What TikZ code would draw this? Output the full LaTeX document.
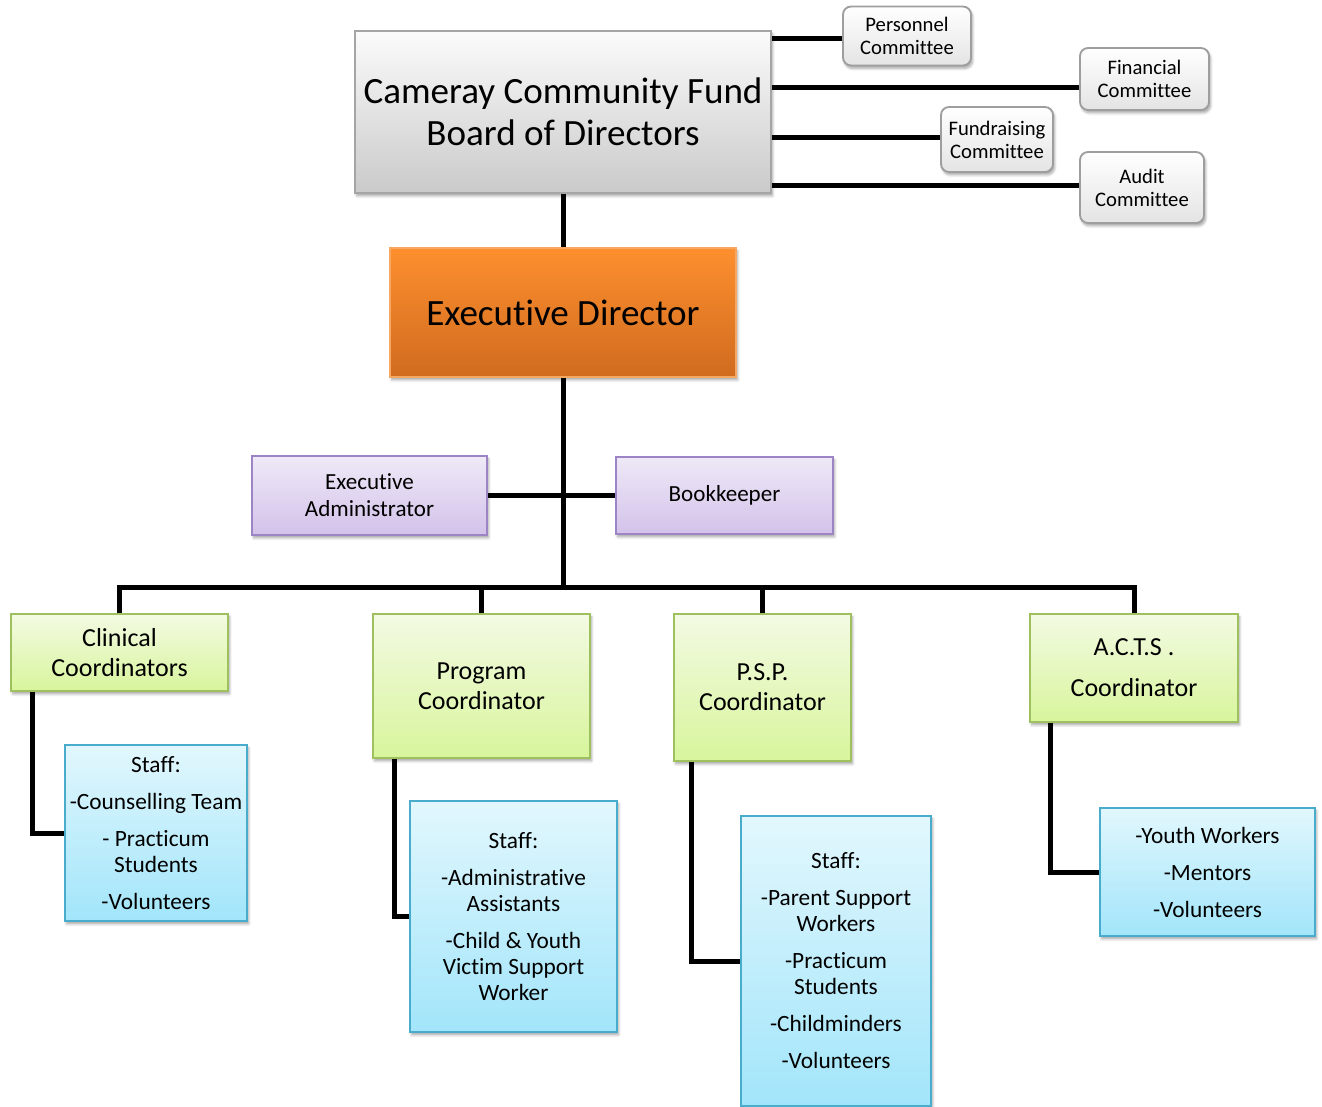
\documentclass[tikz,border=0pt]{standalone}
\usepackage{fontspec}
\setmainfont{Carlito}[Ligatures={NoCommon,NoContextual}]
\usetikzlibrary{shadows.blur,calc,backgrounds}
\definecolor{boardtop}{HTML}{FBFBFB}
\definecolor{boardbot}{HTML}{CACACA}
\definecolor{boardline}{HTML}{A5A5A5}
\definecolor{comtop}{HTML}{FFFFFF}
\definecolor{combot}{HTML}{E4E4E4}
\definecolor{comline}{HTML}{9E9E9E}
\definecolor{exectop}{HTML}{FD8F2E}
\definecolor{execbot}{HTML}{D06B1F}
\definecolor{execline}{HTML}{F6A862}
\definecolor{purtop}{HTML}{EFE9F7}
\definecolor{purbot}{HTML}{D3C2EA}
\definecolor{purline}{HTML}{9C84C5}
\definecolor{grntop}{HTML}{F3FAE3}
\definecolor{grnbot}{HTML}{D8F59C}
\definecolor{grnline}{HTML}{9FC05E}
\definecolor{blutop}{HTML}{E2F7FD}
\definecolor{blubot}{HTML}{A2E5FA}
\definecolor{bluline}{HTML}{4AACCC}
\begin{document}
\begin{tikzpicture}[x=0.75pt,y=-0.75pt,
  sz/.style 2 args={minimum width=#1*0.75pt, minimum height=#2*0.75pt},
  boxbase/.style={draw, line width=1pt, align=center, inner sep=0pt, text=black,
    blur shadow={shadow xshift=1.2pt, shadow yshift=-2.2pt, shadow blur steps=6, shadow opacity=35}},
  boardbox/.style={boxbase, top color=boardtop, bottom color=boardbot, draw=boardline, line width=1.2pt,
    font=\fontsize{27.8}{31.5}\selectfont},
  combox/.style={boxbase, rounded corners=6pt, top color=comtop, bottom color=combot, draw=comline, line width=1.4pt,
    font=\fontsize{15.5}{17.25}\selectfont},
  execbox/.style={boxbase, top color=exectop, bottom color=execbot, draw=execline,
    font=\fontsize{27.8}{33}\selectfont},
  purbox/.style={boxbase, top color=purtop, bottom color=purbot, draw=purline,
    font=\fontsize{17.3}{20.25}\selectfont},
  coordbox/.style={boxbase, top color=grntop, bottom color=grnbot, draw=grnline,
    font=\fontsize{19.5}{22.5}\selectfont},
  staffbox/.style={boxbase, top color=blutop, bottom color=blubot, draw=bluline,
    font=\fontsize{17.5}{19.5}\selectfont},
  conn/.style={draw=black, line width=3.75pt}
]
\useasboundingbox (0,0) rectangle (1322,1107);

% top
\node[boardbox, sz={416}{162}] (board) at (563,112) {Cameray Community Fund\\Board of Directors};
\node[combox, sz={128}{59}] (pers) at (907,36) {Personnel\\Committee};
\node[combox, sz={129}{62}] (fin) at (1144.5,79) {Financial\\Committee};
\node[combox, sz={112}{65}] (fund) at (997,139.5) {Fundraising\\Committee};
\node[combox, sz={124}{71}] (audit) at (1142,187.5) {Audit\\Committee};

\node[execbox, sz={346}{129}] (exec) at (563,312.5) {Executive Director};

\node[purbox, sz={235}{79}] (admin) at (369.5,495.5) {Executive\\Administrator};
\node[purbox, sz={217}{77}] (book) at (724.5,495.5) {Bookkeeper};

% coordinators
\node[coordbox, sz={217}{77}] (clin) at (119.5,652.5) {Clinical\\Coordinators};
\node[coordbox, sz={217}{144}] (prog) at (481.5,686) {Program\\Coordinator};
\node[coordbox, sz={177}{147}] (psp) at (762.5,687.5) {P.S.P.\\Coordinator};
\node[coordbox, sz={208}{108}] (acts) at (1134,668) {A.C.T.S .\\[8.25pt]Coordinator};

% staff
\node[staffbox, sz={182}{176}] (cstaff) at (156,833) {Staff:\\[8.25pt]-Counselling Team\\[8.25pt]- Practicum\\Students\\[8.25pt]-Volunteers};
\node[staffbox, sz={207}{231}] (pstaff) at (513.5,916.5) {Staff:\\[8.25pt]-Administrative\\Assistants\\[8.25pt]-Child \& Youth\\Victim Support\\Worker};
\node[staffbox, sz={190}{290}] (sstaff) at (836,961) {Staff:\\[8.25pt]-Parent Support\\Workers\\[8.25pt]-Practicum\\Students\\[8.25pt]-Childminders\\[8.25pt]-Volunteers};
\node[staffbox, sz={215}{128}] (astaff) at (1207.5,872) {-Youth Workers\\[8.25pt]-Mentors\\[8.25pt]-Volunteers};

\coordinate (bus) at (563,587);

\begin{scope}[on background layer]
  \draw[conn] (board.east |- 0,38) -- (pers.west |- 0,38);
  \draw[conn] (board.east |- 0,87) -- (fin.west |- 0,87);
  \draw[conn] (board.east |- 0,137) -- (fund.west |- 0,137);
  \draw[conn] (board.east |- 0,185) -- (audit.west |- 0,185);
  \draw[conn] (board.south) -- (exec.north);
  \draw[conn] (exec.south) -- (exec.south |- bus);
  \draw[conn] (admin.east) -- (book.west);
  \draw[conn] (clin.north) -- (clin.north |- bus) -- (acts.north |- bus) -- (acts.north);
  \draw[conn] (prog.north) -- (prog.north |- bus);
  \draw[conn] (psp.north) -- (psp.north |- bus);
  \draw[conn] ($(clin.south west)+(22,0)$) |- (cstaff.west);
  \draw[conn] ($(prog.south west)+(22,0)$) |- (pstaff.west);
  \draw[conn] ($(psp.south west)+(18,0)$) |- (sstaff.west);
  \draw[conn] ($(acts.south west)+(21,0)$) |- (astaff.west);
\end{scope}
\end{tikzpicture}
\end{document}
